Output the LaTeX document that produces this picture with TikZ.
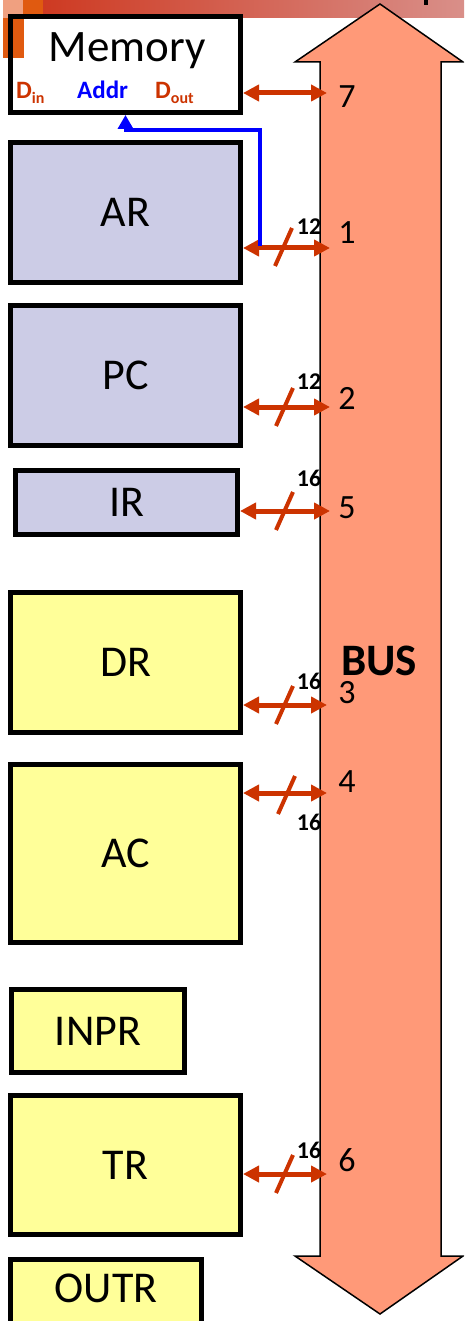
\documentclass[tikz,border=0pt]{standalone}
\usepackage{fontspec}
\setmainfont{Carlito}
\usetikzlibrary{arrows.meta,calc}
\definecolor{arrowred}{RGB}{204,51,0}
\definecolor{busfill}{RGB}{255,153,120}
\definecolor{lav}{RGB}{204,204,230}
\definecolor{yel}{RGB}{255,255,153}
\definecolor{hdrL}{RGB}{206,58,34}
\definecolor{hdrR}{RGB}{217,143,137}
\definecolor{sqA}{RGB}{240,160,128}
\definecolor{sqB}{RGB}{224,90,16}
\definecolor{addrblue}{RGB}{0,0,255}
\tikzset{
  reg/.style={draw=black, line width=5pt, inner sep=0pt},
  lavbox/.style={reg, fill=lav},
  yelbox/.style={reg, fill=yel},
  regtxt/.style={font=\fontsize{44}{48}\selectfont, inner sep=0pt},
  busarrow/.style={draw=arrowred, line width=5pt, arrows={Triangle[length=16pt,width=16pt]-Triangle[length=16pt,width=16pt]}},
  slashline/.style={draw=arrowred, line width=4pt},
  addrline/.style={draw=addrblue, line width=3.5pt, arrows={-Triangle[length=14pt,width=15pt]}},
  wlbl/.style={font=\bfseries\fontsize{24}{26}\selectfont, inner sep=0pt},
  numlbl/.style={font=\fontsize{34}{36}\selectfont, inner sep=0pt},
  memlbl/.style={font=\bfseries\fontsize{25}{27}\selectfont, inner sep=0pt, anchor=base west}
}
\begin{document}
\begin{tikzpicture}[x=1pt,y=-1pt]
\useasboundingbox (0,0) rectangle (464,1321);
\clip (0,0) rectangle (464,1321);
\fill[white] (0,0) rectangle (464,1321);
% header
\shade[left color=hdrL, right color=hdrR] (43,0) rectangle (464,18);
\fill[sqA] (3,0) rectangle (23,18);
\fill[sqB] (23,0) rectangle (43,18);
\fill[sqB] (3,18) rectangle (24,58);
\fill[black] (424,0) rectangle (428,5);
% bus
\draw[fill=busfill, draw=black, line width=1.5pt, line join=miter]
  (380,4) -- (463,62) -- (441,62) -- (441,1256) -- (463,1256) -- (380,1314)
  -- (295,1256) -- (320,1256) -- (320,62) -- (295,62) -- cycle;
\node[font=\bfseries\fontsize{45}{48}\selectfont, inner sep=0pt] (bus) at (379,661) {BUS};
% registers
\node[reg, minimum width=230pt, minimum height=96pt] (mem) at (125.5,64.5) {};
\node[font=\fontsize{45}{48}\selectfont, inner sep=0pt, anchor=base] (memt) at (127,62) {Memory};
\node[memlbl, text=arrowred] (din) at (16,99) {D\raisebox{-5pt}{\fontsize{16}{16}\selectfont in}};
\node[memlbl, text=addrblue] (addr) at (77,99) {Addr};
\node[memlbl, text=arrowred] (dout) at (155,99) {D\raisebox{-5pt}{\fontsize{16}{16}\selectfont out}};

\node[lavbox, minimum width=230pt, minimum height=140pt] (ar) at (125.5,212.5) {};
\node[regtxt] (art) at (ar.center) {AR};
\node[lavbox, minimum width=230pt, minimum height=140pt] (pc) at (125.5,375.5) {};
\node[regtxt] (pct) at (pc.center) {PC};
\node[lavbox, minimum width=222pt, minimum height=64pt] (ir) at (126.5,502.5) {};
\node[regtxt] (irt) at (ir.center) {IR};
\node[yelbox, minimum width=230pt, minimum height=140pt] (dr) at (125.5,662.5) {};
\node[regtxt] (drt) at (dr.center) {DR};
\node[yelbox, minimum width=230pt, minimum height=178pt] (ac) at (125.5,853.5) {};
\node[regtxt] (act) at (ac.center) {AC};
\node[yelbox, minimum width=173pt, minimum height=83pt] (inpr) at (98,1031) {};
\node[regtxt] (inprt) at (inpr.center) {INPR};
\node[yelbox, minimum width=230pt, minimum height=139pt] (tr) at (125.5,1165) {};
\node[regtxt] (trt) at (tr.center) {TR};
\node[yelbox, minimum width=191pt, minimum height=68pt] (outr) at (106,1293) {};
\node[regtxt] (outrt) at (106,1288) {OUTR};

% bus taps
\coordinate (p7) at (327,93);
\coordinate (p1) at (330,248);
\coordinate (p2) at (330,407);
\coordinate (p5) at (330,511);
\coordinate (p3) at (327,705);
\coordinate (p4) at (327,793);
\coordinate (p6) at (327,1174);

\draw[busarrow] (mem.east |- p7) -- (p7);
\draw[busarrow] (ar.east |- p1) -- (p1);
\draw[busarrow] (pc.east |- p2) -- (p2);
\draw[busarrow] (ir.east |- p5) -- (p5);
\draw[busarrow] (dr.east |- p3) -- (p3);
\draw[busarrow] (ac.east |- p4) -- (p4);
\draw[busarrow] (tr.east |- p6) -- (p6);

% width slashes
\coordinate (s1) at (284,247);
\coordinate (s2) at (285,407);
\coordinate (s5) at (285,511);
\coordinate (s3) at (285,705);
\coordinate (s4) at (287,795);
\coordinate (s6) at (285,1174);
\foreach \s in {s1,s2,s5,s3,s4,s6}{
  \draw[slashline] ([shift={(-9,19)}]\s) -- ([shift={(8,-19)}]\s);
}

% address line
\coordinate (a1) at (260,246);
\coordinate (bend) at (260,130);
\draw[addrline] (a1) -- (bend) -| (mem.south);

% width labels
\node[wlbl] (w1) at (309,227) {12};
\node[wlbl] (w2) at (309,382) {12};
\node[wlbl] (w5) at (309,478) {16};
\node[wlbl] (w3) at (309,681) {16};
\node[wlbl] (w4) at (309,822) {16};
\node[wlbl] (w6) at (309,1150) {16};

% bus numbers
\node[numlbl] (n7) at (347,97) {7};
\node[numlbl] (n1) at (347,233) {1};
\node[numlbl] (n2) at (347,398) {2};
\node[numlbl] (n5) at (347,508) {5};
\node[numlbl] (n3) at (347,693) {3};
\node[numlbl] (n4) at (347,782) {4};
\node[numlbl] (n6) at (347,1160) {6};
\end{tikzpicture}
\end{document}
